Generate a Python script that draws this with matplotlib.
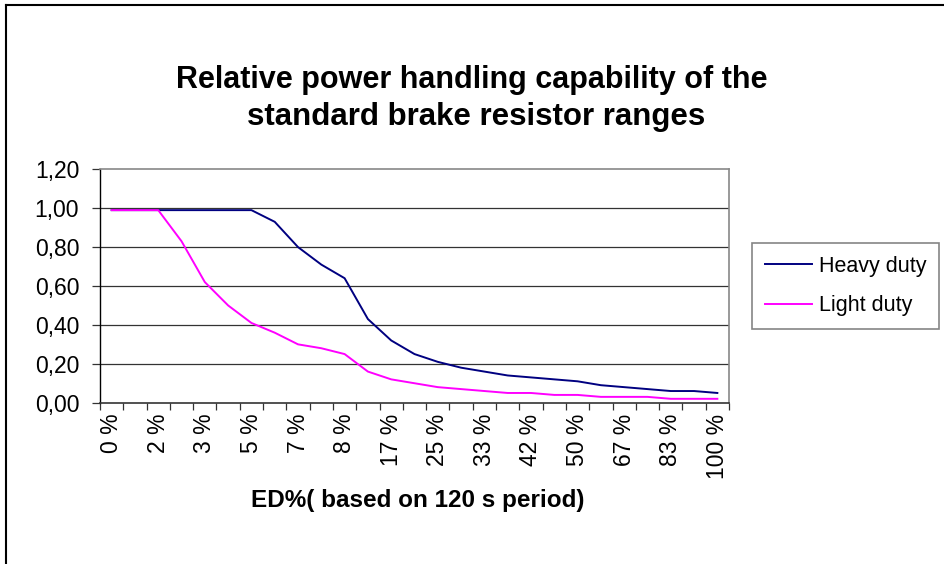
import matplotlib
matplotlib.use("Agg")
import matplotlib.pyplot as plt
from matplotlib.lines import Line2D

plt.rcParams['font.family'] = ['Liberation Sans', 'DejaVu Sans']

# Categories: ED% of a 120 s period (labels shown on every second category)
categories = ["0 %", "1 %", "2 %", "3 %", "3 %", "4 %", "5 %", "6 %", "7 %", "8 %",
              "8 %", "13 %", "17 %", "21 %", "25 %", "29 %", "33 %", "38 %", "42 %",
              "46 %", "50 %", "58 %", "67 %", "75 %", "83 %", "92 %", "100 %"]
heavy_duty = [0.99, 0.99, 0.99, 0.99, 0.99, 0.99, 0.99, 0.93, 0.80, 0.71,
              0.64, 0.43, 0.32, 0.25, 0.21, 0.18, 0.16, 0.14, 0.13, 0.12,
              0.11, 0.09, 0.08, 0.07, 0.06, 0.06, 0.05]
light_duty = [0.99, 0.99, 0.99, 0.83, 0.62, 0.50, 0.41, 0.36, 0.30, 0.28,
              0.25, 0.16, 0.12, 0.10, 0.08, 0.07, 0.06, 0.05, 0.05, 0.04,
              0.04, 0.03, 0.03, 0.03, 0.02, 0.02, 0.02]
y_ticks = [0.0, 0.2, 0.4, 0.6, 0.8, 1.0, 1.2]

W, H = 945, 564
fig = plt.figure(figsize=(W / 100, H / 100), dpi=100)

# outer chart border (left and top visible)
fig.add_artist(Line2D([6 / W, 6 / W], [0, 1 - 5 / H], transform=fig.transFigure, color='black', lw=1.5))
fig.add_artist(Line2D([6 / W, 1], [1 - 5 / H, 1 - 5 / H], transform=fig.transFigure, color='black', lw=1.5))

ax = fig.add_axes([100 / W, 1 - 402.7 / H, 629 / W, (402.7 - 169.3) / H])
x = list(range(len(categories)))
ax.plot(x, heavy_duty, color='#000080', lw=1.4, label='Heavy duty', zorder=3)
ax.plot(x, light_duty, color='#FF00FF', lw=1.4, label='Light duty', zorder=3)

ax.set_xlim(-0.5, len(categories) - 0.5)
ax.set_ylim(0, 1.2)

ax.set_yticks(y_ticks)
ax.set_yticklabels([f"{v:.2f}".replace('.', ',') for v in y_ticks], fontsize=16.5)
for v in y_ticks[1:-1]:
    ax.axhline(v, color='#333333', lw=0.9, zorder=1)

ax.set_xticks(x[::2])
ax.set_xticklabels(categories[::2], rotation=90, fontsize=16.5)
ax.set_xticks([i - 0.5 for i in range(len(categories) + 1)], minor=True)
ax.tick_params(axis='x', which='major', length=0, pad=8)
ax.tick_params(axis='x', which='minor', length=5, width=0.9, color='#333333', direction='out')
ax.tick_params(axis='y', length=6, width=0.9, color='#333333', direction='out', pad=9)

ax.spines['left'].set_color('black')
ax.spines['left'].set_linewidth(1.0)
ax.spines['bottom'].set_color('#333333')
ax.spines['bottom'].set_linewidth(1.2)
ax.spines['top'].set_color('#888888')
ax.spines['top'].set_linewidth(1.2)
ax.spines['right'].set_color('#888888')
ax.spines['right'].set_linewidth(1.2)

fig.text(472 / W, 1 - 80 / H, "Relative power handling capability of the",
         ha='center', va='center', fontsize=22, fontweight='bold')
fig.text(476 / W, 1 - 117 / H, "standard brake resistor ranges",
         ha='center', va='center', fontsize=22.5, fontweight='bold')
fig.text(418 / W, 1 - 500 / H, "ED%( based on 120 s period)",
         ha='center', va='center', fontsize=17.5, fontweight='bold')

leg = fig.legend(loc='upper left', bbox_to_anchor=(752 / W, 1 - 243 / H),
                 fontsize=15.5, frameon=True, fancybox=False, handlelength=2.2,
                 handletextpad=0.3, borderpad=0.6, labelspacing=0.85, borderaxespad=0)
leg.get_frame().set_edgecolor('#666666')
leg.get_frame().set_linewidth(1.2)

fig.savefig("out.png", dpi=100)
